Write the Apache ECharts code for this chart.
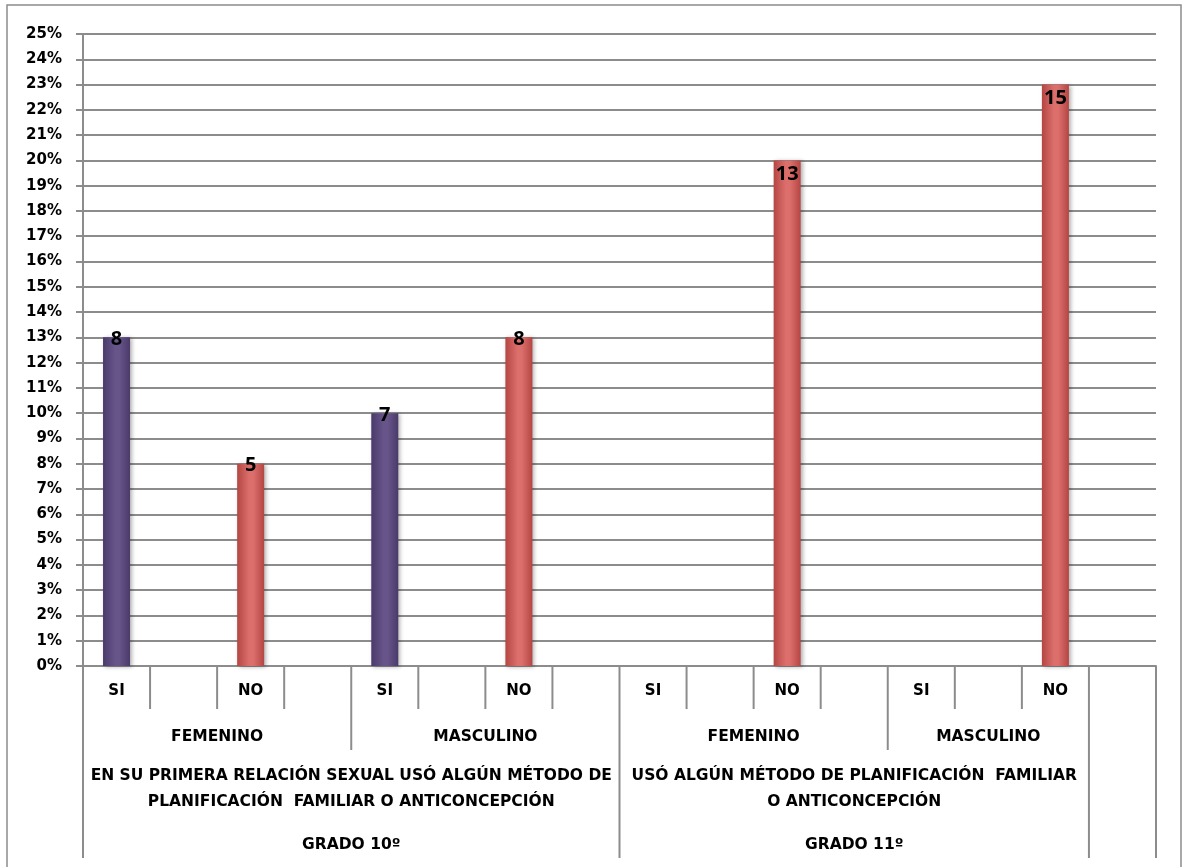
<!DOCTYPE html>
<html>
<head>
<meta charset="utf-8">
<script src="https://cdn.jsdelivr.net/npm/echarts@6/dist/echarts.min.js"></script>
<style>
  html, body { margin: 0; padding: 0; background: #fff; }
  #chart { width: 1187px; height: 867px; }
</style>
</head>
<body>
<div id="chart"></div>
<script>
// Categorías del eje X (nivel respuesta), con columnas vacías intercaladas
const categorias = ['SI', '', 'NO', '', 'SI', '', 'NO', '', 'SI', '', 'NO', '', 'SI', '', 'NO', ''];
// Porcentaje de estudiantes por columna
const porcentajes = [13, null, 8, null, 10, null, 13, null, null, null, 20, null, null, null, 23, null];
// Número de estudiantes (etiqueta de cada barra)
const conteos = [8, null, 5, null, 7, null, 8, null, null, null, 13, null, null, null, 15, null];

// Niveles superiores del eje: nombre y número de columnas que abarca
const nivelSexo = [
  { nombre: 'FEMENINO', span: 4 },
  { nombre: 'MASCULINO', span: 4 },
  { nombre: 'FEMENINO', span: 4 },
  { nombre: 'MASCULINO', span: 3 },
  { nombre: '', span: 1 }
];
const nivelPregunta = [
  { nombre: 'EN SU PRIMERA RELACIÓN SEXUAL USÓ ALGÚN MÉTODO DE\nPLANIFICACIÓN  FAMILIAR O ANTICONCEPCIÓN', span: 8 },
  { nombre: 'USÓ ALGÚN MÉTODO DE PLANIFICACIÓN  FAMILIAR\nO ANTICONCEPCIÓN', span: 7 },
  { nombre: '', span: 1 }
];
const nivelGrado = [
  { nombre: 'GRADO 10º', span: 8 },
  { nombre: 'GRADO 11º', span: 7 },
  { nombre: '', span: 1 }
];

const AXIS_FONT = '"DejaVu Sans", sans-serif';
const LABEL_FONT = '"Open Sans", sans-serif';
const LINE = '#8c8c8c';

function barGradient(edge, mid) {
  return new echarts.graphic.LinearGradient(0, 0, 1, 0, [
    { offset: 0, color: edge },
    { offset: 0.45, color: mid },
    { offset: 0.6, color: mid },
    { offset: 1, color: edge }
  ]);
}
const morado = barGradient('#4a396a', '#67558a');
const rojo = barGradient('#b44543', '#dc6f6c');

const datos = porcentajes.map((v, i) => {
  if (v === null) return null;
  const twoDigits = String(conteos[i]).length > 1;
  return {
    value: v,
    itemStyle: { color: categorias[i] === 'SI' ? morado : rojo },
    label: { distance: twoDigits ? 4 : -8 }
  };
});

const chart = echarts.init(document.getElementById('chart'), null, { renderer: 'canvas' });

chart.setOption({
  animation: false,
  backgroundColor: '#ffffff',
  grid: { left: 83, right: 31, top: 34, bottom: 201, containLabel: false },
  xAxis: {
    type: 'category',
    data: categorias,
    boundaryGap: true,
    axisLine: { show: true, lineStyle: { color: LINE, width: 2 } },
    axisTick: { show: false },
    axisLabel: {
      interval: 0,
      margin: 18,
      color: '#000',
      fontFamily: AXIS_FONT,
      fontWeight: 'bold',
      fontSize: 15
    },
    splitLine: { show: false }
  },
  yAxis: {
    type: 'value',
    min: 0,
    max: 25,
    interval: 1,
    axisLine: { show: true, lineStyle: { color: LINE, width: 2 } },
    axisTick: { show: true, length: 7, lineStyle: { color: LINE, width: 2 } },
    axisLabel: {
      formatter: '{value}%',
      margin: 21,
      color: '#000',
      fontFamily: AXIS_FONT,
      fontWeight: 'bold',
      fontSize: 15
    },
    splitLine: { show: true, lineStyle: { color: LINE, width: 2 } }
  },
  series: [{
    type: 'bar',
    data: datos,
    barWidth: 27,
    itemStyle: {
      shadowBlur: 4,
      shadowColor: 'rgba(0,0,0,0.3)',
      shadowOffsetX: 2,
      shadowOffsetY: 1
    },
    label: {
      show: true,
      position: 'insideTop',
      formatter: p => conteos[p.dataIndex],
      color: '#000',
      fontFamily: LABEL_FONT,
      fontWeight: 'bold',
      fontSize: 20
    }
  }]
});

// Eje X jerárquico: separadores y etiquetas de niveles superiores
(function buildAxisLevels() {
  const c0 = chart.convertToPixel({ xAxisIndex: 0 }, 0);
  const c1 = chart.convertToPixel({ xAxisIndex: 0 }, 1);
  const step = c1 - c0;
  const left = c0 - step / 2;
  const yAxis0 = chart.convertToPixel({ yAxisIndex: 0 }, 0);
  const rowBottoms = [yAxis0 + 43, yAxis0 + 84, yAxis0 + 154, yAxis0 + 192];
  const rowCenters = [null, yAxis0 + 71, yAxis0 + 123, yAxis0 + 179];
  const n = categorias.length;

  // profundidad de cada frontera: hasta qué nivel baja la línea
  const depth = new Array(n + 1).fill(0);
  depth[0] = 3; depth[n] = 3;
  [nivelSexo, nivelPregunta, nivelGrado].forEach((lvl, k) => {
    let b = 0;
    lvl.forEach(g => {
      depth[b] = Math.max(depth[b], k + 1);
      b += g.span;
      depth[b] = Math.max(depth[b], k + 1);
    });
  });

  const elems = [];
  for (let b = 0; b <= n; b++) {
    const x = left + b * step;
    elems.push({
      type: 'line',
      shape: { x1: x, y1: yAxis0, x2: x, y2: rowBottoms[depth[b]] },
      style: { stroke: LINE, lineWidth: 2 },
      silent: true
    });
  }

  [nivelSexo, nivelPregunta, nivelGrado].forEach((lvl, k) => {
    let b = 0;
    lvl.forEach(g => {
      const cx = left + (b + g.span / 2) * step;
      if (g.nombre) {
        elems.push({
          type: 'text',
          x: cx,
          y: rowCenters[k + 1],
          style: {
            text: g.nombre,
            fill: '#000',
            font: 'bold 15.5px ' + AXIS_FONT,
            align: 'center',
            verticalAlign: 'middle',
            lineHeight: 26
          },
          silent: true
        });
      }
      b += g.span;
    });
  });

  // marco exterior del gráfico
  elems.push({
    type: 'rect',
    shape: { x: 7, y: 5, width: 1174, height: 900 },
    style: { fill: null, stroke: LINE, lineWidth: 1.5 },
    silent: true,
    z: -1
  });

  chart.setOption({ graphic: elems });
})();
</script>
</body>
</html>
